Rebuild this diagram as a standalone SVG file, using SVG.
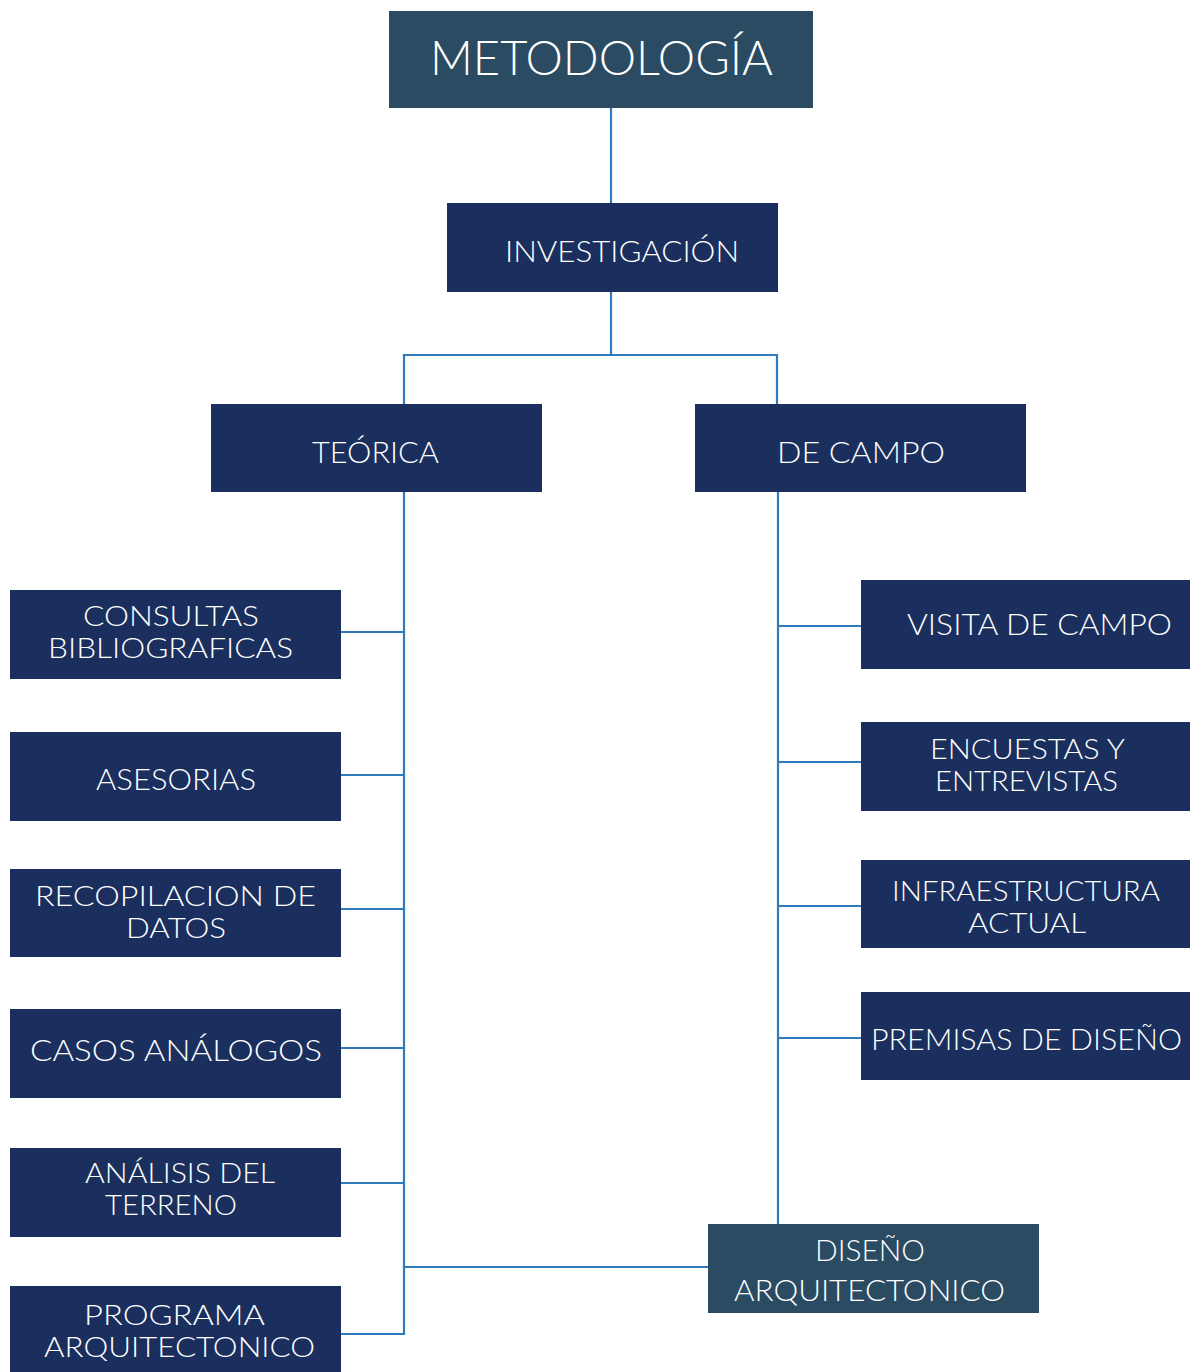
<svg xmlns="http://www.w3.org/2000/svg" width="1190" height="1372" viewBox="0 0 1190 1372">
<style>
.b{fill:#1b2f5e}
.d{fill:#2b4b63}
text{fill:#ffffff;font-family:"Lato","Liberation Sans",sans-serif;font-weight:300;font-size:30px}
text.t{font-size:28px}
text.h{font-size:48px}
.c line{stroke:#2e7bbd;stroke-width:2.2}
</style>
<rect width="1190" height="1372" fill="#ffffff"/>
<g class="c" id="connectors">
<line x1="611" y1="108" x2="611" y2="203"/>
<line x1="611" y1="292" x2="611" y2="355"/>
<line x1="403" y1="355" x2="778" y2="355"/>
<line x1="404" y1="354" x2="404" y2="404"/>
<line x1="777" y1="354" x2="777" y2="408"/>
<line x1="404" y1="492" x2="404" y2="1335"/>
<line x1="341" y1="632" x2="405" y2="632"/>
<line x1="341" y1="775" x2="405" y2="775"/>
<line x1="341" y1="909" x2="405" y2="909"/>
<line x1="341" y1="1048" x2="405" y2="1048"/>
<line x1="341" y1="1183" x2="405" y2="1183"/>
<line x1="341" y1="1334" x2="405" y2="1334"/>
<line x1="404" y1="1267" x2="708" y2="1267"/>
<line x1="778" y1="492" x2="778" y2="1224"/>
<line x1="777" y1="626" x2="861" y2="626"/>
<line x1="777" y1="762" x2="861" y2="762"/>
<line x1="777" y1="906" x2="861" y2="906"/>
<line x1="777" y1="1038" x2="861" y2="1038"/>
</g>
<g id="metodologia"><rect class="d" x="389" y="11" width="424" height="97"/><text class="h" x="430" y="75" textLength="343" lengthAdjust="spacingAndGlyphs">METODOLOGÍA</text></g>
<g id="investigacion"><rect class="b" x="447" y="203" width="331" height="89"/><text x="505" y="262" textLength="234" lengthAdjust="spacingAndGlyphs">INVESTIGACIÓN</text></g>
<g id="teorica"><rect class="b" x="211" y="404" width="331" height="88"/><text x="312" y="463" textLength="127" lengthAdjust="spacingAndGlyphs">TEÓRICA</text></g>
<g id="decampo"><rect class="b" x="695" y="404" width="331" height="88"/><text x="777" y="463" textLength="168" lengthAdjust="spacingAndGlyphs">DE CAMPO</text></g>
<g id="consultas"><rect class="b" x="10" y="590" width="331" height="89"/><text class="t" x="83" y="626" textLength="176" lengthAdjust="spacingAndGlyphs">CONSULTAS</text><text class="t" x="48" y="658" textLength="245" lengthAdjust="spacingAndGlyphs">BIBLIOGRAFICAS</text></g>
<g id="asesorias"><rect class="b" x="10" y="732" width="331" height="89"/><text x="96" y="790" textLength="160" lengthAdjust="spacingAndGlyphs">ASESORIAS</text></g>
<g id="recopilacion"><rect class="b" x="10" y="869" width="331" height="88"/><text class="t" x="35" y="906" textLength="281" lengthAdjust="spacingAndGlyphs">RECOPILACION DE</text><text class="t" x="126" y="938" textLength="100" lengthAdjust="spacingAndGlyphs">DATOS</text></g>
<g id="casos"><rect class="b" x="10" y="1009" width="331" height="89"/><text x="30" y="1061" textLength="292" lengthAdjust="spacingAndGlyphs">CASOS ANÁLOGOS</text></g>
<g id="analisis"><rect class="b" x="10" y="1148" width="331" height="89"/><text class="t" x="85" y="1183" textLength="190" lengthAdjust="spacingAndGlyphs">ANÁLISIS DEL</text><text class="t" x="105" y="1215" textLength="132" lengthAdjust="spacingAndGlyphs">TERRENO</text></g>
<g id="programa"><rect class="b" x="10" y="1286" width="331" height="86"/><text class="t" x="84" y="1325" textLength="181" lengthAdjust="spacingAndGlyphs">PROGRAMA</text><text class="t" x="44" y="1357" textLength="271" lengthAdjust="spacingAndGlyphs">ARQUITECTONICO</text></g>
<g id="visita"><rect class="b" x="861" y="580" width="329" height="89"/><text x="907" y="635" textLength="265" lengthAdjust="spacingAndGlyphs">VISITA DE CAMPO</text></g>
<g id="encuestas"><rect class="b" x="861" y="722" width="329" height="89"/><text class="t" x="930" y="759" textLength="195" lengthAdjust="spacingAndGlyphs">ENCUESTAS Y</text><text class="t" x="935" y="791" textLength="183" lengthAdjust="spacingAndGlyphs">ENTREVISTAS</text></g>
<g id="infraestructura"><rect class="b" x="861" y="860" width="329" height="88"/><text class="t" x="892" y="901" textLength="268" lengthAdjust="spacingAndGlyphs">INFRAESTRUCTURA</text><text class="t" x="968" y="933" textLength="118" lengthAdjust="spacingAndGlyphs">ACTUAL</text></g>
<g id="premisas"><rect class="b" x="861" y="992" width="329" height="88"/><text x="871" y="1050" textLength="311" lengthAdjust="spacingAndGlyphs">PREMISAS DE DISEÑO</text></g>
<g id="diseno"><rect class="d" x="708" y="1224" width="331" height="89"/><text x="815" y="1261" textLength="110" lengthAdjust="spacingAndGlyphs">DISEÑO</text><text x="734" y="1301" textLength="271" lengthAdjust="spacingAndGlyphs">ARQUITECTONICO</text></g>
</svg>
